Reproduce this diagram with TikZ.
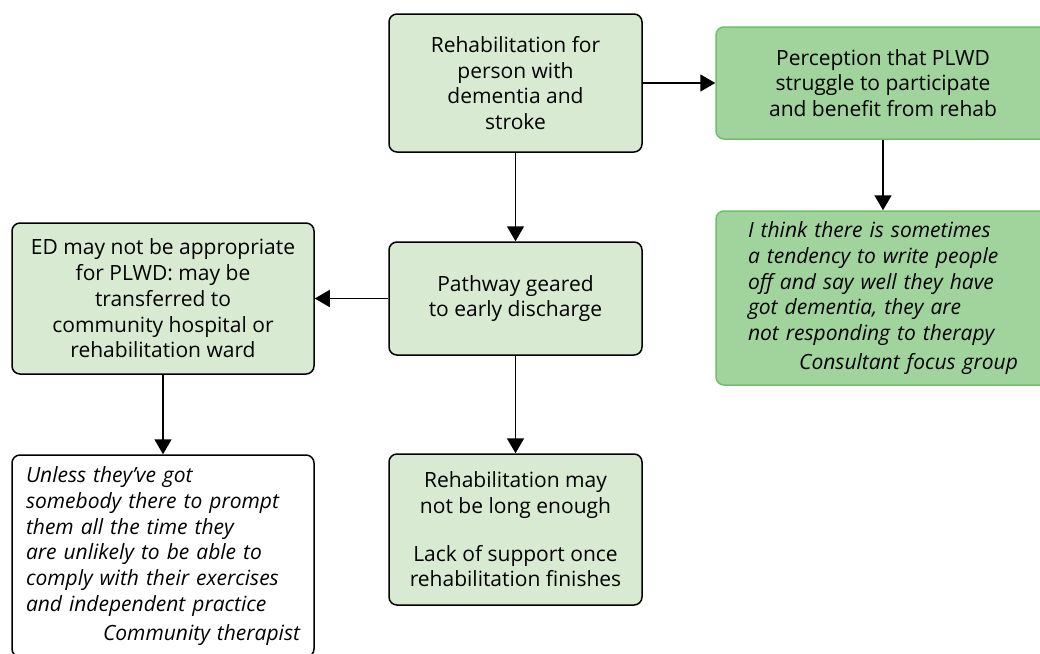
\documentclass[tikz,border=0pt]{standalone}
\usepackage{fontspec}
\setmainfont{Open Sans}
\usetikzlibrary{
		positioning,
		arrows.meta
	}
\tikzset{
		>={Triangle[length=15pt,width=17pt]}
	}
\definecolor{palegreen}{RGB}{217, 234, 211}
\definecolor{leafgreen}{RGB}{161, 212, 156}
\definecolor{leafedge}{RGB}{112, 191, 104}

\begin{document}
\begin{tikzpicture}
		[node distance=200pt,on grid,
		x=1pt, y=1pt,
		every node/.style= {font=\fontsize{21}{25.7}\selectfont},
		flow box/.style= {draw=black, line width=1.5pt, fill=palegreen, rounded corners=8pt, align=center, inner sep=0pt, minimum width=253pt},
		view box/.style= {flow box, draw=leafedge, fill=leafgreen, minimum width=334pt},
		quote box/.style= {view box, align=left, font=\fontsize{21}{25.7}\selectfont\itshape},
		link/.style= {->, line width=1.6pt}
		]

		\path [use as bounding box, clip] (0,0) rectangle (1040,-653);

		\node [flow box, minimum height=138pt] (rehab) at (515.5,-83) {Rehabilitation for\\person with\\dementia and\\stroke};
		\node [view box, minimum height=112pt] (percep) [right=367.5pt of rehab] {Perception that PLWD\\struggle to participate\\and benefit from rehab};
		\node [quote box, text width=270pt, minimum height=174pt] (consult) [below=215pt of percep] {I think there is sometimes\\a tendency to write people\\off and say well they have\\got dementia, they are\\not responding to therapy\\[3pt]\hspace*{\fill}Consultant focus group};

		\node [flow box, minimum height=113pt] (pathway) [below=215.5pt of rehab] {Pathway geared\\to early discharge};
		\node [flow box, minimum width=302pt, minimum height=151pt] (ED) [left=352.5pt of pathway] {ED may not be appropriate\\for PLWD: may be\\transferred to\\community hospital or\\rehabilitation ward};
		\node [quote box, draw=black, fill=white, text width=274pt, minimum width=302pt, minimum height=202pt] (therapist) [below=257.5pt of ED] {Unless they'{}ve got\\somebody there to prompt\\them all the time they\\are unlikely to be able to\\comply with their exercises\\and independent practice\\[3pt]\hspace*{\fill}Community therapist};
		\node [flow box, minimum height=151pt] (limits) [below=231pt of pathway] {Rehabilitation may\\not be long enough\\[22pt]Lack of support once\\rehabilitation finishes};

		\draw [link] (rehab) -- (percep);
		\draw [link] (percep) -- (consult);
		\draw [link] (rehab) -- (pathway);
		\draw [link] (pathway) -- (ED);
		\draw [link] (ED) -- (therapist);
		\draw [link] (pathway) -- (limits);

	\end{tikzpicture}
\end{document}
